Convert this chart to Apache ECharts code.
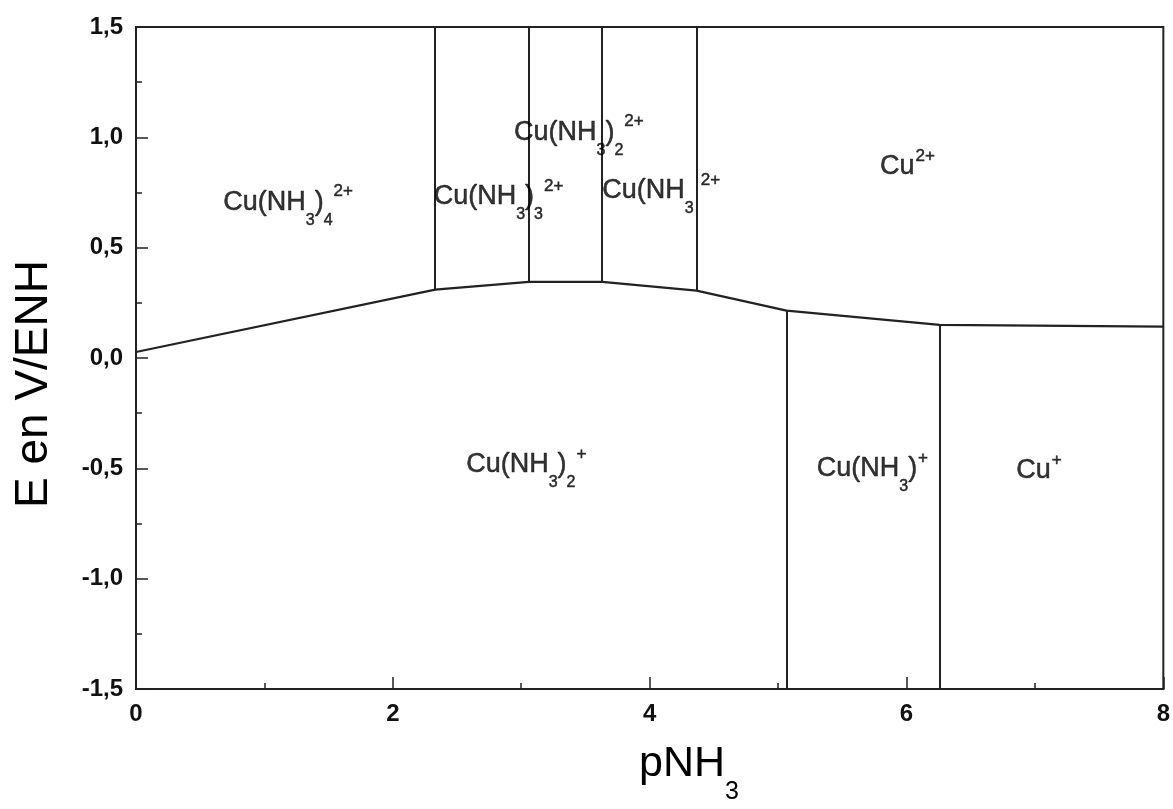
<!DOCTYPE html>
<html><head><meta charset="utf-8">
<script src="https://cdn.jsdelivr.net/npm/echarts@6/dist/echarts.min.js"></script>
<style>html,body{margin:0;padding:0;background:#fff}#c{width:1173px;height:809px}</style>
</head><body><div id="c"></div>
<script>
// ---- data ----
const xTickLabels = ['0', '2', '4', '6', '8'];
const yTickValues = [-1.5, -1.0, -0.5, 0.0, 0.5, 1.0, 1.5];
// Cu(II)/Cu(I) boundary (pNH3, E in V/ENH)
const boundaryX = [0, 2.33, 3.06, 3.63, 4.365, 5.066, 6.258, 8];
const boundaryE = [0.027, 0.31, 0.345, 0.345, 0.305, 0.215, 0.15, 0.142];
// indices of boundary points where vertical dividers start
const upperDividerIdx = [1, 2, 3, 4];
const lowerDividerIdx = [5, 6];
const eTop = 1.5;
const eBottom = -1.5;
// species labels (rich text), anchor = left edge / vertical centre
const speciesLabels = [
  '{m|Cu(NH}{sub|3}{m|)}{sub|4}{sup|2+}',
  '{m|Cu(NH}{sub|3}{m|)}{sub|3}{sup|2+}',
  '{m|Cu(NH}{sub|3}{m|)}{sub|2}{sup|2+}',
  '{m|Cu(NH}{sub|3}{supg|2+}',
  '{m|Cu}{sup|2+}',
  '{m|Cu(NH}{sub|3}{m|)}{sub|2}{sup|+}',
  '{m|Cu(NH}{sub|3}{m|)}{sup|+}',
  '{m|Cu}{sup|+}'
];
const speciesX = [0.68, 2.318, 2.944, 3.631, 5.794, 2.571, 5.301, 6.854];
const speciesE = [0.706, 0.730, 1.023, 0.759, 0.866, -0.482, -0.500, -0.509];

// ---- chart ----
const FONT = '"Liberation Sans", Arial, Helvetica, sans-serif';
const INK = '#222';
const chart = echarts.init(document.getElementById('c'), null, {renderer: 'canvas'});

const tb = {textBorderColor: '#000', textBorderWidth: 0.5};
const labelRich = {
  m:    Object.assign({fontSize: 27, fontFamily: FONT, color: '#000', verticalAlign: 'middle'}, tb),
  sup:  Object.assign({fontSize: 17, fontFamily: FONT, color: '#000', verticalAlign: 'middle', padding: [0, 0, 21, 1]}, tb),
  supg: Object.assign({fontSize: 17, fontFamily: FONT, color: '#000', verticalAlign: 'middle', padding: [0, 0, 21, 7]}, tb),
  sub:  Object.assign({fontSize: 16, fontFamily: FONT, color: '#000', verticalAlign: 'middle', padding: [36, 0, 0, 0]}, tb)
};

const option = {
  backgroundColor: '#fff',
  animation: false,
  grid: {left: 136, right: 7, top: 27, bottom: 120, show: true, borderColor: INK, borderWidth: 2, backgroundColor: 'transparent'},
  xAxis: {
    type: 'value', min: 0, max: 8, interval: 2,
    axisLine: {show: true, onZero: false, lineStyle: {color: INK, width: 2}},
    axisTick: {show: true, inside: true, length: 12, lineStyle: {color: INK, width: 1.5}},
    minorTick: {show: true, splitNumber: 2, length: 6, lineStyle: {color: INK, width: 1.5}},
    splitLine: {show: false},
    axisLabel: {
      margin: 13, fontSize: 24, fontWeight: 'bold', fontFamily: FONT, color: '#111',
      formatter: v => xTickLabels[Math.round(v / 2)] ?? String(v)
    }
  },
  yAxis: {
    type: 'value', min: eBottom, max: eTop, interval: 0.5,
    axisLine: {show: true, onZero: false, lineStyle: {color: INK, width: 2}},
    axisTick: {show: true, inside: true, length: 12, lineStyle: {color: INK, width: 1.5}},
    minorTick: {show: true, splitNumber: 2, length: 6, lineStyle: {color: INK, width: 1.5}},
    splitLine: {show: false},
    axisLabel: {
      margin: 13, fontSize: 24, fontWeight: 'bold', fontFamily: FONT, color: '#111',
      formatter: v => {
        const t = yTickValues.find(y => Math.abs(y - v) < 1e-9);
        const val = (t === undefined ? v : t);
        return (Math.abs(val) < 1e-9 ? 0 : val).toFixed(1).replace('.', ',');
      }
    }
  },
  graphic: [
    {
      type: 'text', x: 639, y: 764, z: 100,
      style: {
        text: '{m|pNH}{s|3}', align: 'left', verticalAlign: 'middle',
        rich: {
          m: {fontSize: 43, fontFamily: FONT, fill: '#000', verticalAlign: 'middle'},
          s: {fontSize: 25, fontFamily: FONT, fill: '#000', verticalAlign: 'middle', padding: [56, 0, 0, 0]}
        }
      }
    },
    {
      type: 'text', x: 34, y: 384, rotation: Math.PI / 2, z: 100,
      style: {text: 'E en V/ENH', font: '46px ' + FONT, fill: '#000', align: 'center', verticalAlign: 'middle'}
    }
  ],
  series: [
    {
      type: 'line', name: 'boundary', symbol: 'none', silent: true,
      lineStyle: {color: INK, width: 2.2},
      data: boundaryX.map((x, i) => [x, boundaryE[i]]),
      z: 5
    },
    {
      type: 'lines', coordinateSystem: 'cartesian2d', silent: true,
      lineStyle: {color: INK, width: 2, opacity: 1},
      data: upperDividerIdx.map(i => ({coords: [[boundaryX[i], eTop], [boundaryX[i], boundaryE[i]]]}))
        .concat(lowerDividerIdx.map(i => ({coords: [[boundaryX[i], eBottom], [boundaryX[i], boundaryE[i]]]}))),
      z: 5
    },
    {
      type: 'scatter', symbolSize: 0, silent: true, z: 10,
      data: speciesX.map((x, i) => ({value: [x, speciesE[i]], label: {formatter: speciesLabels[i]}})),
      label: {show: true, position: 'right', distance: 0, align: 'left', verticalAlign: 'middle', rich: labelRich}
    }
  ]
};
chart.setOption(option);
</script>
</body></html>
